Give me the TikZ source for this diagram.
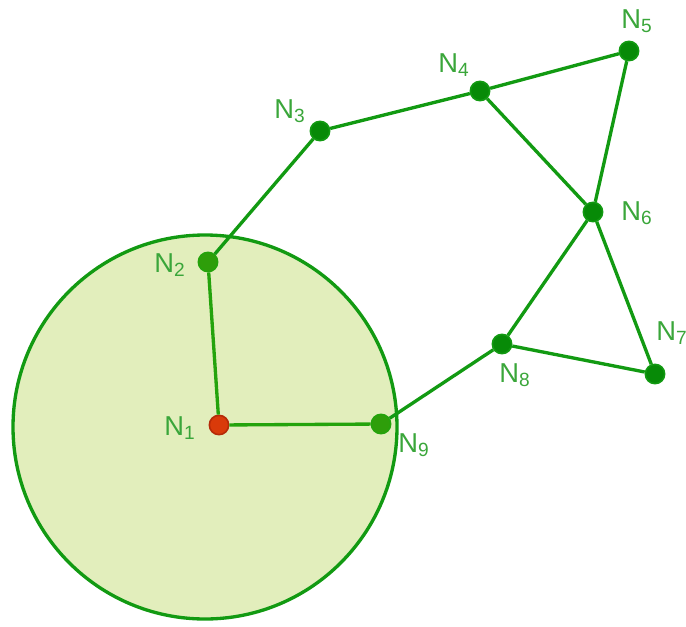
\documentclass[tikz,border=0pt]{standalone}
\usepackage{fontspec}
\setmainfont{Liberation Sans}
\definecolor{edgegreen}{HTML}{129A12}
\definecolor{rangeedge}{HTML}{24A30C}
\definecolor{dotgreen}{HTML}{078A07}
\definecolor{rangedot}{HTML}{2E9E0A}
\definecolor{rangefill}{HTML}{E2EEBC}
\definecolor{labelgreen}{HTML}{3AA63A}
\definecolor{srcred}{HTML}{D93A0A}
\definecolor{srcborder}{HTML}{B52A08}
\begin{document}
\begin{tikzpicture}[x=0.75pt, y=-0.75pt,
    dot/.style={circle, fill=dotgreen, draw=edgegreen, line width=1.2pt,
        inner sep=0pt, minimum size=14.5pt},
    link/.style={edgegreen, line width=2.5pt},
    lbl/.style={labelgreen, inner sep=0pt, anchor=base west,
        font=\fontsize{20.5}{24}\selectfont}]
    \useasboundingbox (0,0) rectangle (686,626);
    % Range of N1
    \filldraw[fill=rangefill, draw=edgegreen, line width=2.5pt] (205,427) circle[radius=192];
    % Nodes
    \node[dot, fill=srcred, draw=srcborder] (n1) at (219,425) {};
    \foreach \n/\x/\y in {2/208/262, 9/381/424}
        \node[dot, fill=rangedot, draw=rangeedge] (n\n) at (\x,\y) {};
    \foreach \n/\x/\y in {3/320/131, 4/480/91, 5/629/51, 6/593/212, 7/655/374, 8/502/344}
        \node[dot] (n\n) at (\x,\y) {};
    % Links
    \foreach \a/\b in {1/2, 1/9}
        \draw[link, rangeedge] (n\a) -- (n\b);
    \foreach \a/\b in {2/3, 3/4, 4/5, 4/6, 5/6, 6/7, 6/8, 8/7, 8/9}
        \draw[link] (n\a) -- (n\b);
    % Labels
    \foreach \n/\x/\y in {1/164/435, 2/154/272, 3/274/118, 4/438/72, 5/621/28,
                          6/621/220, 7/656/340, 8/499/382, 9/398/452}
        \node[lbl] (l\n) at (\x,\y) {N\textsubscript{\n}};
\end{tikzpicture}
\end{document}
